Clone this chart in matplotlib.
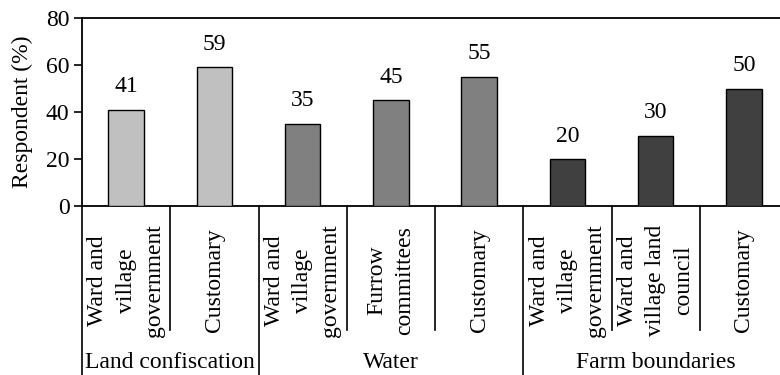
import matplotlib
matplotlib.use("Agg")
import matplotlib.pyplot as plt
from matplotlib.transforms import blended_transform_factory

# Data
groups = ["Land confiscation", "Water", "Farm boundaries"]
group_sizes = [2, 3, 3]
categories = [
    "Ward and\nvillage\ngovernment",
    "Customary",
    "Ward and\nvillage\ngovernment",
    "Furrow\ncommittees",
    "Customary",
    "Ward and\nvillage\ngovernment",
    "Ward and\nvillage land\ncouncil",
    "Customary",
]
values = [41, 59, 35, 45, 55, 20, 30, 50]
group_colors = ["#c0c0c0", "#808080", "#404040"]
yticks = [0, 20, 40, 60, 80]

FS = 17
plt.rcParams["font.family"] = ["Liberation Serif", "DejaVu Serif"]
plt.rcParams["font.size"] = FS

fig = plt.figure(figsize=(7.8, 3.75), dpi=100)
ax = fig.add_axes([82 / 780, 1 - 206 / 375, 706 / 780, 188 / 375])

colors = []
for c, n in zip(group_colors, group_sizes):
    colors += [c] * n

x = list(range(len(values)))
ax.bar(x, values, width=0.4, color=colors, edgecolor="black", linewidth=1.0, zorder=3)
for xi, v in zip(x, values):
    ax.text(xi, v + 5.3, str(v), ha="center", va="bottom", fontsize=FS)

ax.set_xlim(-0.5, len(values) - 0.5)
ax.set_ylim(0, 80)
ax.set_yticks(yticks)
ax.set_xticks([])
ax.tick_params(axis="y", direction="out", length=6, width=1.2, pad=3, labelsize=FS)
ax.set_ylabel("Respondent (%)", fontsize=FS, labelpad=9)
for s in ax.spines.values():
    s.set_linewidth(1.3)

trans = blended_transform_factory(ax.transData, ax.transAxes)

# Category labels and separators below the axis
group_starts = [0]
for n in group_sizes[:-1]:
    group_starts.append(group_starts[-1] + n)

for i, lab in enumerate(categories):
    ax.text(i, -0.395, lab, rotation=90, ha="center", va="center",
            multialignment="center", transform=trans, fontsize=FS,
            linespacing=1.45)

for b in range(len(values) + 1):
    xb = b - 0.5
    bottom = -1.0 if (b in group_starts or b == len(values)) else -0.66
    ax.plot([xb, xb], [0, bottom], color="black", lw=1.2, transform=trans,
            clip_on=False)

for g, start, n in zip(groups, group_starts, group_sizes):
    ax.text(start - 0.5 + n / 2, -0.835, g, ha="center", va="center",
            transform=trans, fontsize=FS)

fig.savefig("out.png", dpi=100)
